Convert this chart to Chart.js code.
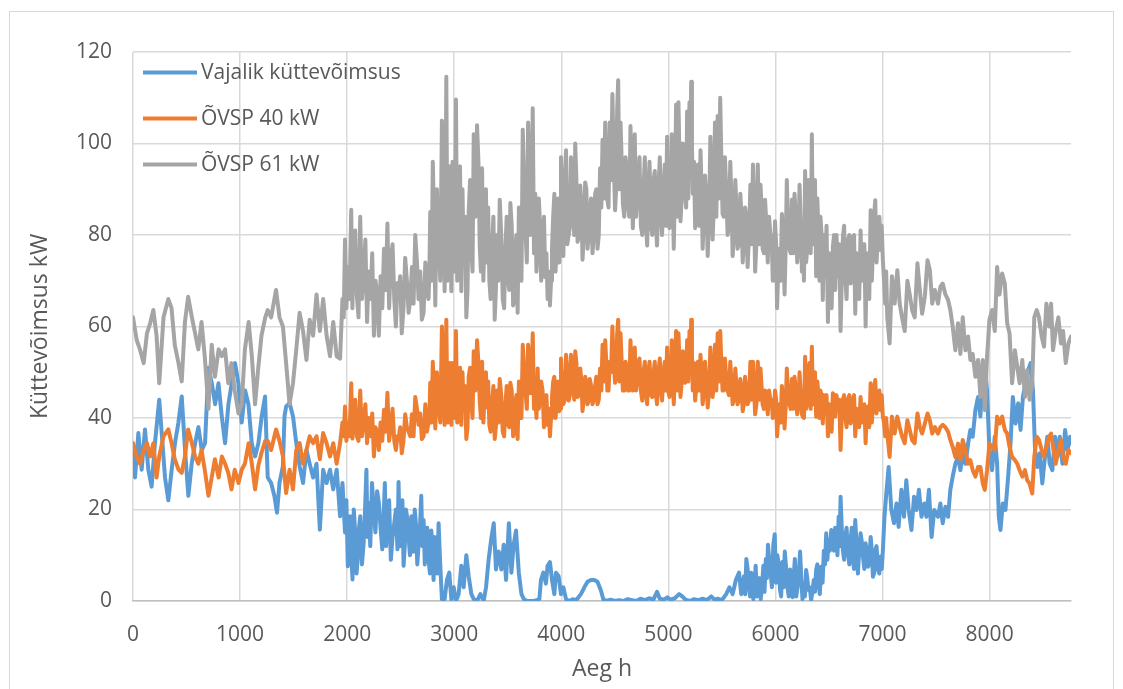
<!DOCTYPE html>
<html>
<head>
<meta charset="utf-8">
<script src="https://cdn.jsdelivr.net/npm/chart.js@4.4.1/dist/chart.umd.min.js"></script>
<style>
  html, body { margin: 0; background: #fff; }
  canvas { display: block; }
</style>
</head>
<body>
<canvas id="chart" width="1123" height="689"></canvas>
<script>
// Tunnid, mille kohta ÕVSP seeriad on loetud (h)
const hoursPump = [
  0, 35, 65, 100, 130, 160, 190, 220, 245, 285, 330, 360, 390, 425, 455, 485, 515, 550, 580, 610,
  640, 670, 705, 735, 765, 800, 830, 860, 890, 920, 950, 985, 1015, 1045, 1080, 1110, 1140, 1170, 1200, 1235,
  1258, 1290, 1336, 1368, 1400, 1430, 1462, 1494, 1525, 1556, 1588, 1620, 1650, 1682, 1714, 1745, 1776, 1808, 1840, 1870,
  1902, 1934, 1956, 1980, 2006, 2038, 2060, 2090, 2122, 2154, 2186, 2218, 2250, 2280, 2312, 2344, 2376, 2408, 2440, 2470,
  2480, 2510, 2542, 2574, 2605, 2636, 2667, 2698, 2730, 2760, 2776, 2800, 2823, 2854, 2885, 2910, 2926, 2948, 2973, 2995,
  3016, 3041, 3066, 3088, 3113, 3135, 3160, 3182, 3213, 3238, 3260, 3285, 3306, 3328, 3353, 3378, 3400, 3425, 3453, 3478,
  3503, 3524, 3550, 3570, 3592, 3617, 3640, 3665, 3690, 3710, 3733,
  3757, 3779, 3800, 3825, 3850, 3872, 3894, 3913, 3935, 3957, 3981, 3997, 4019, 4044, 4069, 4090, 4112, 4130, 4152, 4177,
  4198, 4223, 4245, 4266, 4291, 4316, 4338, 4362, 4385, 4410, 4430, 4452, 4477, 4502, 4522, 4531, 4553, 4575, 4600, 4624,
  4646, 4668, 4686, 4710, 4730, 4756, 4780, 4802, 4824, 4850, 4873, 4894, 4920, 4941, 4966, 4988,
  5010, 5032, 5050, 5072, 5094, 5113, 5135, 5156, 5175, 5197, 5213, 5228, 5250, 5275, 5300, 5320, 5342, 5367, 5392, 5413,
  5435, 5460, 5484, 5506, 5528, 5553, 5578, 5600, 5625, 5646, 5672, 5694, 5716, 5740, 5766, 5790, 5810, 5835, 5860, 5880,
  5903, 5928, 5953, 5975, 5996, 6015, 6037, 6060, 6085, 6106, 6130, 6153, 6178, 6203, 6225, 6247,
  6255, 6277, 6296, 6318, 6340, 6358, 6380, 6402, 6420, 6442, 6464, 6490, 6514, 6536, 6558, 6583, 6608, 6630, 6652, 6677,
  6702, 6723, 6745, 6770, 6795, 6817, 6842, 6864, 6889, 6910, 6932, 6957, 6982, 7003, 7025, 7044, 7066, 7088, 7113, 7138,
  7160, 7182, 7207, 7232, 7254, 7276, 7300, 7326, 7348, 7370, 7395, 7420, 7442, 7464, 7489,
  7518, 7540, 7562, 7587, 7612, 7633, 7655, 7680, 7705, 7727, 7749, 7774, 7799, 7820, 7842, 7867, 7892, 7914, 7936, 7955,
  7976, 7998, 8023, 8048, 8070, 8092, 8117, 8142, 8164, 8186, 8210, 8236, 8258, 8280, 8305, 8330, 8351, 8373, 8398, 8417,
  8440, 8461, 8486, 8508, 8530, 8555, 8574, 8592, 8617, 8642, 8667, 8686, 8711, 8736, 8760
];

// ÕVSP 61 kW (kW)
const pump61Kw = [
  62, 57, 55, 52, 58.5, 60.7, 63.6, 58, 47.6, 62, 66, 64, 56, 52, 48, 61, 66.5, 62, 58.5, 55,
  61, 53.5, 42, 56, 49, 55, 53.5, 55, 47.6, 52, 46, 41, 43, 55, 61, 53.5, 43, 51, 58, 62,
  63.6, 62, 68, 62, 60, 52, 43, 47.6, 55, 63, 59, 52.7, 61.5, 58, 67, 59, 66, 58, 53.5, 61,
  53.5, 53, 66, 79, 73, 85.5, 77, 67, 84, 71, 61, 66, 58, 67, 71, 77, 82.5, 74.5, 66, 69.5,
  66, 58.5, 75, 63, 73, 80, 66, 61.5, 74, 66, 85, 96, 64.6, 78.5, 105, 67.7, 114.6, 89, 67.7, 81.5,
  109.6, 87, 67.7, 75, 62, 85, 77, 102, 104, 77.7, 94.6, 81.5, 74, 70, 77, 61.5, 80, 87.7, 66, 77,
  70, 87, 64.6, 77, 63, 74, 103, 81.5, 104.6, 80, 107.7,
  89, 78.5, 83, 75, 70.8, 66, 64.6, 77, 89, 77, 74, 97, 75.4, 98.5, 80, 97, 83, 100, 78.5, 90.8,
  74.6, 91.5, 77, 85, 76, 89, 77, 94.6, 100.8, 104.6, 87.7, 104.6, 110.8, 85.4, 107.7, 113.8, 104.6, 87, 97, 86,
  103.8, 81.5, 102, 89, 97, 80, 97, 77.7, 96, 80, 94, 77.7, 97, 80, 95.4, 101.5,
  81.5, 102, 77, 108.5, 109, 83, 100, 89, 107, 109, 113.5, 89, 81.5, 95.4, 98.5, 77, 93, 75.4, 101.5, 79,
  104.6, 106, 110, 84.6, 97, 80, 96, 75.4, 92, 77, 89, 74, 86, 73, 91, 95.4, 72, 95.4, 91, 77,
  87.7, 74, 80, 70, 83, 64, 77, 84.6, 67, 92, 77, 87.7, 89, 74, 91, 72,
  82.5, 94, 76.7, 87.6, 102, 84, 71, 80.3, 84, 65.8, 71, 61, 69.4, 77.4, 68, 71, 59, 79.6, 71, 78.9,
  69.4, 79.6, 62.8, 71, 81, 76.7, 60, 73.8, 85.4, 76.7, 87.6, 80.3, 76.7, 74.5, 65, 62, 56.3, 71, 65, 72.3,
  65, 62, 59, 70, 67, 63.6, 62, 73.8, 68, 62.8, 66.5, 74.5, 72.3, 65, 68,
  65, 68.7, 69.4, 67, 65.8, 63.6, 60, 54.8, 60.7, 54, 62, 54.8, 57.8, 52.7, 54, 49, 52.7, 44.6, 52.7, 41.7,
  53.4, 61.4, 63.6, 59, 73, 67, 71.6, 69.4, 60.7, 58.5, 47.6, 54.8, 51.2, 47.6, 52.7, 44.6, 50.5, 44, 47.6, 62,
  63.6, 62, 57.8, 55.6, 65, 60, 65, 54.8, 59, 62, 56.3, 59, 52, 56.3, 57.8
];

// ÕVSP 40 kW (kW)
const pump40Kw = [
  34.5, 31.6, 30, 33, 34.5, 31.6, 34.5, 27, 31.6, 36, 37.5, 34.5, 31, 28.7, 28, 31.6, 37.5, 34.5, 31.6, 30,
  33, 28.7, 23, 27, 31, 27, 31.6, 30, 28, 24.4, 28.7, 25.8, 28.7, 30, 34.5, 30, 24.4, 29.5, 32.4, 35,
  35, 33, 37.5, 35, 31.6, 23.6, 28.7, 24.4, 33, 34.5, 30, 33, 36, 34.5, 36, 31, 36.7, 34.5, 31.6, 34.5,
  30, 34.5, 39, 42.5, 39, 47.6, 40.4, 36, 46, 39, 34.5, 36, 31.6, 36.7, 39, 41.8, 45.5, 38, 35, 36,
  35.4, 32.3, 40.8, 37, 40.8, 44.6, 38.5, 35.4, 43, 39, 47.7, 52.3, 37.7, 43, 60, 38.5, 61.5, 47.7, 38.5, 46,
  59, 48.5, 38.5, 42.3, 35.4, 49, 43, 54.6, 57, 43.8, 52.3, 46, 42.3, 38.5, 43, 35.4, 46, 48.5, 37, 43,
  38.5, 47.7, 36, 43, 35.4, 43, 56, 46, 56, 45.4, 58.5,
  44.6, 50.8, 43.8, 46, 40, 38.5, 36, 44.6, 49, 43, 41.5, 53, 43, 53.8, 43.8, 53.8, 47, 54.6, 44.6, 50.8,
  41.5, 49, 43, 48.5, 43, 47, 43, 50.8, 56, 57, 46, 52.3, 60, 47.7, 58.5, 61.5, 58.5, 46, 52.3, 46,
  57, 46, 55.4, 48.5, 53, 43.8, 52.3, 43, 52.3, 44.6, 52.3, 43, 53, 43.8, 52.3, 55.4,
  44.6, 57, 43, 59, 58.5, 44.6, 54.6, 47.7, 57, 59, 61.5, 46, 43.8, 52.3, 53.8, 43, 52.3, 42.3, 55.4, 44.6,
  56, 58.5, 59, 46, 53, 46, 52.3, 43, 50.8, 43, 48.5, 41.5, 49, 43, 52.3, 52.3, 40.8, 52.3, 50.8, 43,
  46, 40.8, 43.8, 40, 46, 36, 43, 47, 37.7, 50.8, 43, 48.5, 49, 40.8, 50, 40.8,
  40.3, 53.4, 43.2, 52, 55.6, 47.6, 40.3, 44.6, 46, 38.8, 44, 36, 41.7, 45.4, 40.3, 41.7, 33, 44, 40.3, 44,
  38.8, 44, 36, 40.3, 44.6, 41.7, 34.5, 42.5, 47.6, 42.5, 48.3, 44.6, 41.7, 40.3, 36, 36.6, 31.5, 40.3, 36.6, 40.3,
  38, 36, 34.5, 39.5, 37.4, 35.2, 34.5, 41, 38, 36.6, 38.8, 41, 39.5, 36.6, 38,
  36.6, 38, 38.5, 38, 37, 35.2, 33.7, 31.5, 34.4, 30.8, 35.2, 33, 30, 30.8, 28.6, 27.2, 29.3, 29.3, 25.7, 24.3,
  28.6, 34.4, 33.7, 33, 40.3, 38.8, 40.3, 37.4, 36.6, 33.7, 31.5, 30.8, 30, 28.6, 27.2, 28.6, 26.4, 25.7, 23.5, 31.5,
  35.9, 35.2, 33, 31.5, 33.7, 35.9, 36.6, 33.7, 30, 33, 35.2, 31.5, 30, 33, 32.3
];

// Lisalugemid tiheda päevase kõikumisega lõikudes (ÕVSP seeriad)
const hoursPumpDense = [
  1968, 1993, 2022, 2049, 2075, 2106, 2138, 2170, 2202, 2234, 2265, 2296, 2328, 2360, 2392, 2424, 2455,
  2495, 2526, 2558, 2590, 2620, 2652, 2682, 2714, 2745, 2768, 2788, 2812, 2838, 2870, 2898, 2918, 2937, 2960, 2984, 3006,
  3028, 3054, 3077, 3100, 3124, 3148, 3171, 3197, 3226, 3249, 3272, 3296, 3317, 3340, 3366, 3389, 3412, 3439, 3466, 3490,
  3514, 3537, 3560, 3581, 3604, 3628, 3652, 3678, 3700, 3722, 3745,
  3768, 3790, 3812, 3838, 3861, 3883, 3904, 3924, 3946, 3969, 3989, 4008, 4032, 4056, 4080, 4101, 4121, 4141, 4165, 4188,
  4210, 4234, 4256, 4278, 4304, 4327, 4350, 4374, 4398, 4420, 4441, 4465, 4490, 4512, 4542, 4564, 4588, 4612, 4635, 4657,
  4677, 4698, 4720, 4743, 4768, 4791, 4813, 4837, 4862, 4884, 4907, 4930, 4954, 4977,
  4999, 5021, 5041, 5061, 5083, 5104, 5124, 5146, 5166, 5186, 5205, 5220, 5239, 5262, 5288, 5310, 5331, 5354, 5380, 5402,
  5424, 5448, 5472, 5495, 5517, 5540, 5566, 5589, 5612, 5636, 5659, 5683, 5705, 5728, 5753, 5778, 5800, 5822, 5848, 5870,
  5892, 5916, 5940, 5964, 5986, 6006, 6026, 6048, 6072, 6096, 6118, 6142, 6166, 6190, 6214, 6236,
  6266, 6286, 6307, 6329, 6349, 6369, 6391, 6411, 6431, 6453, 6477, 6502, 6525, 6547, 6570, 6596, 6619, 6641, 6664, 6690,
  6712, 6734, 6758, 6782, 6806, 6830, 6853, 6876, 6900, 6921, 6944, 6970, 6992, 7014, 7034
];

const pump61KwDense = [
  62, 64, 66, 64, 81, 62, 66, 79, 72, 76, 70, 58, 64, 68, 64, 78, 60,
  71, 64, 70, 66, 65, 74, 72, 63, 68, 72, 70, 82, 90, 70, 92, 80, 70, 95, 96, 72,
  70, 95, 90, 84, 68, 92, 72, 84, 96, 72, 70, 90, 86, 66, 84, 68, 70, 80, 64, 84,
  68, 82, 66, 80, 86, 70, 92, 74, 96, 82, 76,
  72, 88, 70, 84, 76, 72, 70, 84, 72, 88, 80, 80, 92, 78, 82, 92, 80, 92, 80, 86,
  80, 90, 80, 88, 80, 90, 80, 86, 88, 92, 86, 92, 96, 90, 90, 96, 84, 94, 84, 92,
  88, 84, 92, 82, 90, 82, 90, 82, 92, 82, 90, 84, 90, 82,
  84, 86, 92, 90, 84, 96, 88, 96, 86, 88, 96, 100, 96, 86, 82, 90, 84, 88, 84, 92,
  86, 84, 88, 96, 84, 90, 82, 88, 80, 86, 78, 84, 78, 84, 80, 78, 86, 78, 78, 86,
  76, 82, 84, 80, 74, 78, 72, 70, 80, 78, 82, 76, 76, 84, 78, 82,
  70, 74, 92, 76, 78, 92, 88, 70, 80, 80, 82, 76, 64, 80, 80, 78, 70, 82, 66, 80,
  70, 80, 76, 66, 70, 78, 76, 66, 70, 84, 74, 84, 82, 70, 72
];

const pump40KwDense = [
  36, 35, 36, 35.5, 44, 35, 36, 43, 40, 41, 38, 33, 35, 37, 35, 42, 33,
  38, 35, 38, 36, 36, 42, 41, 36, 37, 40, 39, 45, 50, 39, 51, 44, 39, 52, 52, 40,
  39, 51, 50, 47, 38, 51, 40, 46, 52, 40, 39, 50, 48, 37, 47, 38, 39, 45, 36, 47,
  38, 46, 37, 45, 48, 40, 51, 42, 53, 46, 42,
  40, 42, 48, 38, 45, 42, 40, 48, 40, 48, 42, 46, 44, 50, 45, 50, 44, 52, 45, 48,
  44, 48, 44, 47, 44, 49, 44, 46, 48, 52, 46, 50, 52, 50, 48, 52, 46, 50, 46, 50,
  48, 46, 52, 46, 50, 45, 50, 45, 50, 45, 50, 46, 50, 46,
  46, 48, 50, 50, 46, 52, 48, 52, 48, 48, 52, 54, 52, 47, 46, 49, 46, 48, 46, 50,
  47, 46, 48, 52, 46, 49, 45, 48, 44, 47, 44, 46, 43, 46, 44, 44, 47, 43, 44, 47,
  42, 45, 46, 44, 41, 44, 40, 39, 44, 43, 45, 42, 42, 46, 43, 45,
  40, 42, 50, 42, 43, 50, 48, 40, 45, 45, 45, 43, 37, 45, 45, 44, 40, 45, 38, 45,
  40, 45, 42, 38, 39, 43, 42, 38, 39, 46, 41, 46, 45, 39, 40
];

// Vajalik küttevõimsus: oma tunnid ja väärtused (kW)
const hoursNeed = [
  0, 19, 50, 81, 112, 143, 174, 205, 245, 268, 299, 330, 361, 392, 424, 455, 486, 517, 548, 580,
  611, 642, 673, 704, 736, 767, 798, 829, 860, 891, 922, 953, 984, 1015, 1047, 1078, 1109, 1140, 1171, 1202, 1233,
  1258, 1290, 1320, 1345, 1368, 1400, 1415, 1430, 1462, 1494, 1525, 1556, 1588, 1620, 1650, 1682, 1714, 1745, 1776, 1808,
  1840, 1870, 1902, 1934, 1956, 1980, 2006, 2028, 2050, 2075, 2100, 2122, 2154, 2180, 2200, 2232, 2264, 2296, 2328, 2352,
  2376, 2408, 2440, 2470,
  2480, 2505, 2527, 2549, 2574, 2600, 2620, 2642, 2667, 2692, 2714, 2736, 2760, 2786, 2807, 2830, 2854, 2870, 2885, 2910,
  2932, 2954, 2973, 2995, 3016, 3041, 3066, 3088, 3113, 3135, 3160, 3182, 3213, 3244, 3275, 3297, 3322, 3347, 3369, 3390,
  3415, 3440, 3462, 3484, 3510, 3534, 3555, 3577, 3603, 3628, 3650, 3680, 3710, 3740,
  3770, 3795, 3810, 3832, 3856, 3872, 3894, 3913, 3935, 3950, 3975, 3997, 4019, 4044, 4075, 4106, 4137, 4160, 4183, 4215,
  4245, 4276, 4308, 4338, 4370, 4392, 4420, 4460, 4500, 4540, 4580, 4620, 4660, 4700, 4740, 4780, 4820, 4860, 4894, 4920,
  4960, 4990,
  5020, 5060, 5100, 5130, 5160, 5200, 5240, 5280, 5320, 5360, 5400, 5430, 5460, 5500, 5540, 5570, 5600, 5630, 5660, 5680,
  5706, 5728, 5752, 5774, 5793, 5815, 5837, 5862, 5887, 5910, 5930, 5955, 5980, 5993, 6018, 6043, 6064, 6087, 6112, 6137,
  6160, 6181, 6206, 6230, 6252,
  6265, 6286, 6308, 6333, 6358, 6380, 6402, 6427, 6452, 6474, 6496, 6521, 6546, 6568, 6590, 6608, 6630, 6652, 6677, 6702,
  6723, 6745, 6770, 6795, 6817, 6842, 6864, 6889, 6910, 6932, 6957, 6982, 7003, 7018, 7035, 7057, 7082, 7107, 7130, 7150,
  7176, 7200, 7222, 7244, 7270, 7294, 7317, 7340, 7364, 7390, 7410, 7433, 7458, 7483,
  7518, 7540, 7562, 7587, 7612, 7633, 7655, 7680, 7705, 7727, 7749, 7774, 7799, 7820, 7842, 7867, 7892, 7914, 7936, 7955,
  7976, 7998, 8023, 8048, 8070, 8086, 8101, 8123, 8148, 8173, 8195, 8217, 8242, 8267, 8289, 8311, 8336, 8361, 8383, 8405,
  8424, 8446, 8468, 8492, 8517, 8539, 8561, 8586, 8611, 8633, 8655, 8680, 8705, 8727, 8751, 8760
];

const needKw = [
  33, 27, 36.7, 28.7, 37.5, 28.7, 25, 34.5, 44, 36.7, 27, 22, 28.7, 34.5, 39, 44.7, 33, 23, 30, 34.5,
  38, 33, 34.5, 51, 47.6, 43, 47.6, 40.4, 34.5, 43, 47.6, 52, 47.6, 39, 46, 43, 34.5, 31.6, 34.5, 40.4, 44.7,
  27, 25.8, 23, 19.3, 25.8, 29.5, 40.4, 42.5, 43.3, 40.4, 34.5, 29.5, 25.8, 33, 30, 27, 30, 15.6, 28.7, 25.8,
  28.7, 24.4, 28.7, 18.5, 25.8, 15, 7.6, 18.5, 4.7, 15, 9.8, 18.5, 12.6, 28.7, 21.5, 25.8, 15, 21.5, 11.3, 25.8,
  18.5, 9, 17, 11.3,
  26, 17.7, 7.7, 20, 13.8, 18.5, 10.8, 17, 12.3, 23, 17.7, 12.3, 9.2, 15.4, 4.6, 12.3, 17, 7.7, 0.4, 0.4,
  4.6, 6.2, 0.4, 3, 0, 1.5, 7.7, 3, 10, 5.4, 1.5, 0.4, 0, 1.5, 0, 3, 9.2, 13.8, 17, 6.9,
  10.8, 6.9, 12.3, 4.6, 17, 6.2, 12.3, 15.4, 6.2, 1.5, 0.4, 0, 0, 0,
  0.2, 0.4, 4.6, 6.2, 3.8, 7.7, 8.5, 4.6, 1.5, 6.2, 5.4, 1.5, 3, 0.4, 0, 0.4, 0.2, 0.8, 1.5, 3,
  4.2, 4.6, 4.6, 4.2, 2.3, 0.4, 0, 0.3, 0, 0.2, 0, 0.4, 0.2, 0, 0.5, 0.2, 0.6, 0.3, 2, 0.5,
  0.3, 0.8,
  0.3, 0.6, 1.5, 1, 0.3, 0, 0.4, 0.2, 0.5, 0.2, 1, 0.3, 0.5, 0.2, 1.5, 3, 1.5, 4.6, 6.2, 1.5,
  5.4, 9.2, 3, 6.2, 0.4, 7.7, 3, 0.4, 7.7, 9.2, 12.3, 6.2, 12.3, 14.6, 10, 2.3, 8.5, 10.8, 3, 6.9,
  0.8, 9.2, 3, 10.8, 0.4,
  3.9, 6.8, 2.4, 0.2, 4.6, 6.8, 3.9, 7.5, 11, 14.8, 13.3, 15.5, 11, 14, 18.4, 22.8, 11, 14, 10.4, 13.3,
  9, 17.7, 6, 14.8, 9.7, 12.6, 7.5, 14, 5.3, 11, 6.8, 9.7, 11, 18.4, 23.5, 29.3, 19.9, 17, 21.3, 16.2,
  24.3, 18.4, 26.4, 19.9, 15.5, 22.8, 19.9, 24.3, 18.4, 21.3, 18.4, 24.3, 14, 19.9,
  18.4, 21.3, 17, 20.6, 18.4, 24.3, 27.2, 30, 31.5, 28.6, 32.3, 30, 34.4, 37.4, 35.9, 41.7, 44.6, 40.3, 49, 52,
  46, 33, 28.6, 35.9, 30, 18.4, 15.5, 21.3, 19.9, 27.2, 34.4, 44.6, 38.8, 43.2, 37.4, 44.6, 47.6, 50.5, 52, 46,
  33, 29.3, 32.3, 25.7, 31.5, 35.9, 30, 28.6, 35.9, 31.5, 35.9, 30, 37.4, 33, 35.9, 34.4
];

// Lisalugemid vajaliku küttevõimsuse tihedates lõikudes
const hoursNeedDense = [
  1993, 2017, 2039, 2062, 2088, 2111, 2138, 2167, 2190, 2216, 2248, 2280, 2312, 2340, 2364, 2392, 2424, 2455,
  2492, 2516, 2538, 2562, 2587, 2610, 2631, 2655, 2680, 2703, 2725, 2748, 2773, 2797, 2818, 2842, 2862,
  5717, 5740, 5763, 5783, 5804, 5826, 5850, 5874, 5898, 5920, 5942, 5967, 6005, 6030, 6053, 6076, 6100, 6124, 6148, 6170,
  6194, 6218, 6241, 6275, 6297, 6320, 6345, 6369, 6391, 6414, 6440, 6463, 6485, 6508, 6533, 6557, 6579, 6599, 6619, 6641,
  6664, 6690, 6712, 6734, 6758, 6782, 6806, 6830, 6853, 6876, 6900, 6921, 6944, 6970, 6993
];

const needKwDense = [
  22, 12, 10, 20, 6, 16, 8, 20, 14, 12, 20, 24, 16, 18, 12, 22, 14, 20,
  12, 22, 12, 18, 10, 16, 20, 8, 16, 12, 8, 16, 6, 12, 14, 6, 12,
  1.5, 7, 1, 5, 3, 1, 5, 3, 2, 5, 9, 3, 4, 8, 1, 3, 7, 1, 4, 5,
  1, 6, 5, 1, 5, 3, 2, 2, 8, 1.5, 4, 8, 9, 11, 12, 16, 10, 12, 16, 9,
  16, 8, 16, 7, 12, 11, 13, 7, 11, 8, 11, 6, 12, 6, 7
];

// telgede jaotised
const hourTicks = [0, 1000, 2000, 3000, 4000, 5000, 6000, 7000, 8000];
const kwTicks = [0, 20, 40, 60, 80, 100, 120];

const textColor = "#595959";
const gridColor = "#d9d9d9";
const fontFamily = "'Open Sans', sans-serif";

const toPoints = (hours, kw) => hours.map((h, i) => ({ x: h, y: kw[i] }));
const series = (hA, vA, hB, vB) => toPoints(hA, vA).concat(toPoints(hB, vB)).sort((a, b) => a.x - b.x);

// valge taust ja õhuke raam ümber kogu joonise
const chartFrame = {
  id: "chartFrame",
  beforeDraw(chart) {
    const { ctx, width, height } = chart;
    ctx.save();
    ctx.fillStyle = "#ffffff";
    ctx.fillRect(0, 0, width, height);
    ctx.strokeStyle = gridColor;
    ctx.lineWidth = 1;
    ctx.strokeRect(9.5, 11.5, 1104, height + 10);
    ctx.restore();
  },
};

// legend joonisala vasakus ülanurgas, joonte kaupa
const insideLegend = {
  id: "insideLegend",
  afterDraw(chart) {
    const { ctx, chartArea } = chart;
    ctx.save();
    ctx.font = "21px " + fontFamily;
    ctx.textBaseline = "middle";
    chart.data.datasets.forEach((ds, i) => {
      const y = chartArea.top + 20.5 + i * 46;
      ctx.strokeStyle = ds.borderColor;
      ctx.lineWidth = 4;
      ctx.beginPath();
      ctx.moveTo(chartArea.left + 10, y);
      ctx.lineTo(chartArea.left + 64, y);
      ctx.stroke();
      ctx.fillStyle = textColor;
      ctx.fillText(ds.label, chartArea.left + 68, y + 1);
    });
    ctx.restore();
  },
};

const lineStyle = {
  borderWidth: 4,
  pointRadius: 0,
  tension: 0,
  fill: false,
  borderJoinStyle: "round",
  borderCapStyle: "round",
};

new Chart(document.getElementById("chart"), {
  type: "line",
  data: {
    datasets: [
      {
        label: "Vajalik küttevõimsus",
        data: series(hoursNeed, needKw, hoursNeedDense, needKwDense),
        borderColor: "#5b9bd5",
        order: 3,
        ...lineStyle,
      },
      {
        label: "ÕVSP 40 kW",
        data: series(hoursPump, pump40Kw, hoursPumpDense, pump40KwDense),
        borderColor: "#ed7d31",
        order: 2,
        ...lineStyle,
      },
      {
        label: "ÕVSP 61 kW",
        data: series(hoursPump, pump61Kw, hoursPumpDense, pump61KwDense),
        borderColor: "#a5a5a5",
        order: 1,
        ...lineStyle,
      },
    ],
  },
  options: {
    responsive: false,
    animation: false,
    layout: { padding: { left: 0, top: 52, right: 52, bottom: 0 } },
    plugins: { legend: { display: false }, tooltip: { enabled: false } },
    scales: {
      x: {
        type: "linear",
        min: 0,
        max: 8760,
        afterFit: (s) => { s.height = 88; },
        afterBuildTicks: (s) => { s.ticks = hourTicks.map((v) => ({ value: v })); },
        grid: { color: gridColor, lineWidth: 1.5, drawTicks: false },
        border: { color: "#bfbfbf", width: 1.5 },
        ticks: {
          autoSkip: false,
          maxRotation: 0,
          padding: 21,
          color: textColor,
          font: { family: fontFamily, size: 21 },
          callback: (v) => String(v),
        },
        title: {
          display: true,
          text: "Aeg h",
          color: textColor,
          font: { family: fontFamily, size: 23 },
          padding: { top: 0, bottom: 6 },
        },
      },
      y: {
        min: 0,
        max: 120,
        afterFit: (s) => { s.width = 133; },
        afterBuildTicks: (s) => { s.ticks = kwTicks.map((v) => ({ value: v })); },
        grid: { color: gridColor, lineWidth: 1.5, drawTicks: false },
        border: { display: false },
        ticks: {
          padding: 21,
          color: textColor,
          font: { family: fontFamily, size: 21 },
          callback: (v) => String(v),
        },
        title: {
          display: true,
          text: "Küttevõimsus kW",
          color: textColor,
          font: { family: fontFamily, size: 23 },
          padding: { top: 27, bottom: 0 },
        },
      },
    },
  },
  plugins: [chartFrame, insideLegend],
});
</script>
</body>
</html>
